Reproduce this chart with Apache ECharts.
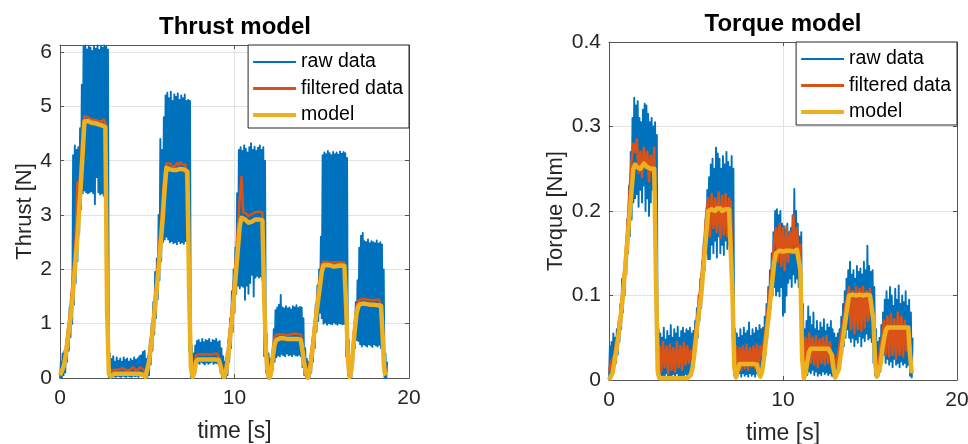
<!DOCTYPE html>
<html>
<head>
<meta charset="utf-8">
<script src="https://cdn.jsdelivr.net/npm/echarts@6/dist/echarts.min.js"></script>
<style>
  html, body { margin: 0; padding: 0; background: #ffffff; }
  #chart { width: 968px; height: 444px; }
</style>
</head>
<body>
<div id="chart"></div>
<script>
// Sampling period of the logged signals, seconds
const SAMPLE_PERIOD = 0.1;

const seriesNames = ['raw data', 'filtered data', 'model'];
const timeTicks = [0, 10, 20];

// ---- Thrust [N], one value per sample (0.0 s ... 18.7 s) ----
const thrustModel = [
  0.05, 0.05, 0.20, 0.35, 0.60, 0.85, 1.10, 1.40, 1.80, 2.20,
  2.60, 3.10, 3.60, 4.15, 4.72, 4.75, 4.73, 4.72, 4.70, 4.70,
  4.69, 4.68, 4.67, 4.66, 4.65, 4.64, 4.62, 1.20, 0.08, 0.03,
  0.06, 0.08, 0.08, 0.08, 0.08, 0.08, 0.08, 0.08, 0.08, 0.08,
  0.08, 0.08, 0.08, 0.08, 0.08, 0.08, 0.08, 0.07, 0.05, 0.02,
  0.05, 0.30, 0.55, 0.85, 1.15, 1.50, 1.85, 2.20, 2.60, 3.00,
  3.50, 3.87, 3.86, 3.84, 3.83, 3.83, 3.82, 3.83, 3.84, 3.85,
  3.85, 3.84, 3.82, 3.80, 1.60, 0.20, 0.02, 0.10, 0.30, 0.34,
  0.34, 0.34, 0.34, 0.34, 0.34, 0.34, 0.34, 0.34, 0.34, 0.34,
  0.34, 0.33, 0.22, 0.08, 0.02, 0.10, 0.30, 0.60, 0.90, 1.25,
  1.60, 2.00, 2.40, 2.80, 2.95, 2.94, 2.92, 2.90, 2.86, 2.85,
  2.88, 2.90, 2.92, 2.92, 2.92, 2.91, 2.90, 1.50, 0.50, 0.10,
  0.00, 0.10, 0.40, 0.62, 0.70, 0.72, 0.73, 0.73, 0.73, 0.72,
  0.72, 0.72, 0.72, 0.72, 0.72, 0.72, 0.72, 0.71, 0.70, 0.50,
  0.25, 0.10, 0.00, 0.10, 0.35, 0.60, 0.90, 1.20, 1.45, 1.70,
  1.95, 2.07, 2.08, 2.08, 2.08, 2.07, 2.06, 2.05, 2.05, 2.06,
  2.07, 2.07, 2.07, 2.06, 1.30, 0.35, 0.02, 0.15, 0.55, 0.90,
  1.20, 1.32, 1.36, 1.37, 1.37, 1.36, 1.36, 1.36, 1.35, 1.35,
  1.35, 1.34, 1.34, 1.34, 1.33, 0.70, 0.10, 0.05
];
const thrustFiltered = [
  0.10, 0.15, 0.30, 0.45, 0.75, 1.00, 1.30, 1.70, 2.10, 2.60,
  3.60, 3.50, 4.00, 4.55, 4.82, 4.82, 4.80, 4.78, 4.76, 4.78,
  4.75, 4.74, 4.73, 4.74, 4.72, 4.76, 4.70, 1.40, 0.15, 0.12,
  0.14, 0.16, 0.15, 0.14, 0.16, 0.15, 0.18, 0.15, 0.14, 0.17,
  0.15, 0.16, 0.20, 0.15, 0.18, 0.16, 0.20, 0.18, 0.15, 0.10,
  0.15, 0.45, 0.70, 1.00, 1.35, 1.70, 2.10, 2.50, 2.90, 3.40,
  3.80, 3.95, 3.93, 3.95, 3.90, 3.92, 3.90, 3.96, 3.92, 3.97,
  3.93, 3.95, 3.92, 3.90, 1.80, 0.35, 0.15, 0.25, 0.42, 0.45,
  0.44, 0.46, 0.43, 0.45, 0.44, 0.46, 0.43, 0.45, 0.44, 0.46,
  0.45, 0.42, 0.30, 0.15, 0.10, 0.22, 0.45, 0.80, 1.10, 1.50,
  1.90, 2.30, 2.80, 3.30, 3.70, 3.05, 3.03, 3.02, 2.98, 3.00,
  3.02, 3.04, 3.05, 3.02, 3.06, 3.04, 3.05, 1.70, 0.60, 0.20,
  0.10, 0.20, 0.55, 0.75, 0.80, 0.82, 0.80, 0.82, 0.80, 0.81,
  0.79, 0.82, 0.80, 0.81, 0.82, 0.80, 0.81, 0.83, 0.80, 0.60,
  0.35, 0.18, 0.12, 0.20, 0.50, 0.75, 1.05, 1.35, 1.65, 1.90,
  2.10, 2.14, 2.15, 2.13, 2.16, 2.12, 2.14, 2.13, 2.15, 2.12,
  2.14, 2.13, 2.15, 2.12, 1.45, 0.45, 0.12, 0.25, 0.70, 1.05,
  1.35, 1.42, 1.45, 1.46, 1.44, 1.45, 1.46, 1.44, 1.45, 1.43,
  1.45, 1.44, 1.46, 1.44, 1.43, 0.85, 0.20, 0.12
];
// lowest and highest raw reading inside each sample period
const thrustRawLow = [
  0.00, 0.00, 0.05, 0.10, 0.30, 0.50, 0.75, 1.00, 1.35, 1.75,
  2.15, 2.65, 3.10, 3.40, 3.45, 3.42, 3.40, 3.42, 3.44, 3.40,
  3.20, 3.70, 3.42, 3.38, 3.40, 3.36, 3.40, 0.50, 0.00, 0.00,
  0.02, 0.03, 0.02, 0.04, 0.03, 0.02, 0.04, 0.03, 0.02, 0.04,
  0.03, 0.02, 0.04, 0.03, 0.04, 0.02, 0.05, 0.04, 0.02, 0.00,
  0.00, 0.05, 0.25, 0.50, 0.80, 1.10, 1.45, 1.80, 2.15, 2.50,
  2.55, 2.60, 2.55, 2.50, 2.52, 2.48, 2.50, 2.46, 2.52, 2.48,
  2.50, 2.47, 2.52, 2.50, 0.50, 0.00, 0.00, 0.05, 0.25, 0.28,
  0.26, 0.30, 0.27, 0.25, 0.29, 0.26, 0.28, 0.30, 0.26, 0.28,
  0.27, 0.25, 0.10, 0.00, 0.00, 0.00, 0.05, 0.30, 0.55, 0.85,
  1.20, 1.55, 1.70, 1.65, 1.70, 1.68, 1.44, 1.70, 1.55, 1.75,
  1.90, 1.50, 1.85, 1.88, 1.85, 1.87, 1.80, 0.40, 0.10, 0.00,
  0.00, 0.00, 0.15, 0.30, 0.38, 0.42, 0.40, 0.44, 0.42, 0.40,
  0.45, 0.42, 0.43, 0.40, 0.44, 0.42, 0.41, 0.43, 0.40, 0.20,
  0.05, 0.00, 0.00, 0.00, 0.10, 0.30, 0.55, 0.85, 1.05, 1.20,
  1.10, 1.00, 1.02, 0.98, 1.01, 1.00, 0.99, 1.02, 1.00, 0.98,
  1.01, 1.00, 0.99, 1.00, 0.40, 0.05, 0.00, 0.00, 0.25, 0.55,
  0.70, 0.68, 0.62, 0.58, 0.62, 0.60, 0.58, 0.62, 0.60, 0.57,
  0.62, 0.60, 0.58, 0.61, 0.55, 0.20, 0.00, 0.00
];
const thrustRawHigh = [
  0.30, 0.45, 0.50, 0.60, 0.95, 1.30, 1.55, 4.10, 4.28, 4.20,
  4.25, 4.60, 5.40, 6.10, 6.12, 6.05, 6.10, 6.08, 6.02, 6.10,
  6.06, 6.12, 6.04, 6.10, 6.08, 6.12, 6.10, 6.05, 0.45, 0.35,
  0.40, 0.30, 0.38, 0.32, 0.36, 0.30, 0.38, 0.33, 0.36, 0.30,
  0.35, 0.32, 0.38, 0.33, 0.36, 0.40, 0.42, 0.48, 0.50, 0.35,
  0.40, 0.70, 1.00, 1.40, 1.95, 2.20, 3.00, 4.40, 4.20, 4.80,
  5.20, 5.25, 5.15, 5.27, 5.10, 5.22, 5.18, 5.24, 5.12, 5.20,
  5.15, 5.22, 5.10, 5.12, 5.10, 0.60, 0.45, 0.60, 0.68, 0.70,
  0.65, 0.72, 0.66, 0.70, 0.68, 0.72, 0.65, 0.70, 0.68, 0.72,
  0.66, 0.68, 0.55, 0.40, 0.30, 0.45, 0.70, 1.10, 1.60, 2.00,
  2.40, 3.40, 4.20, 4.25, 4.18, 4.28, 4.22, 4.15, 4.25, 4.32,
  4.20, 4.26, 4.18, 4.24, 4.28, 4.20, 4.25, 4.00, 0.80, 0.45,
  0.35, 0.45, 0.90, 1.25, 1.30, 1.35, 1.53, 1.30, 1.28, 1.32,
  1.28, 1.30, 1.26, 1.32, 1.30, 1.34, 1.29, 1.31, 1.30, 1.10,
  0.55, 0.35, 0.30, 0.40, 0.70, 1.00, 1.35, 1.70, 2.00, 2.60,
  4.10, 4.15, 4.12, 4.18, 4.14, 4.10, 4.16, 4.12, 4.15, 4.11,
  4.17, 4.13, 4.16, 4.14, 4.05, 0.70, 0.35, 0.45, 0.95, 1.40,
  1.80, 2.40, 2.62, 2.67, 2.52, 2.50, 2.55, 2.48, 2.52, 2.50,
  2.48, 2.53, 2.47, 2.50, 2.46, 2.00, 0.45, 0.30
];

// ---- Torque [Nm], one value per sample (0.0 s ... 17.4 s) ----
const torqueModel = [
  0.000, 0.002, 0.008, 0.020, 0.032, 0.045, 0.062, 0.080, 0.100, 0.125,
  0.150, 0.175, 0.200, 0.225, 0.250, 0.255, 0.252, 0.250, 0.250, 0.253,
  0.256, 0.255, 0.252, 0.250, 0.250, 0.252, 0.250, 0.120, 0.010, 0.002,
  0.002, 0.002, 0.002, 0.002, 0.002, 0.002, 0.002, 0.002, 0.002, 0.002,
  0.002, 0.002, 0.002, 0.002, 0.002, 0.002, 0.003, 0.006, 0.014, 0.030,
  0.050, 0.068, 0.085, 0.100, 0.125, 0.150, 0.175, 0.200, 0.202, 0.202,
  0.200, 0.200, 0.203, 0.205, 0.203, 0.200, 0.200, 0.202, 0.203, 0.202,
  0.200, 0.100, 0.015, 0.003, 0.012, 0.019, 0.019, 0.019, 0.019, 0.019,
  0.019, 0.019, 0.019, 0.019, 0.019, 0.018, 0.010, 0.004, 0.010, 0.025,
  0.043, 0.062, 0.080, 0.100, 0.120, 0.140, 0.150, 0.152, 0.153, 0.153,
  0.152, 0.152, 0.153, 0.154, 0.153, 0.152, 0.152, 0.153, 0.154, 0.152,
  0.130, 0.025, 0.002, 0.008, 0.022, 0.033, 0.037, 0.037, 0.037, 0.037,
  0.037, 0.037, 0.037, 0.037, 0.037, 0.037, 0.037, 0.036, 0.030, 0.014,
  0.003, 0.003, 0.012, 0.027, 0.042, 0.057, 0.072, 0.087, 0.100, 0.101,
  0.101, 0.100, 0.100, 0.101, 0.101, 0.100, 0.100, 0.101, 0.101, 0.100,
  0.100, 0.098, 0.070, 0.020, 0.004, 0.004, 0.018, 0.035, 0.048, 0.058,
  0.062, 0.062, 0.062, 0.062, 0.062, 0.062, 0.062, 0.062, 0.062, 0.062,
  0.062, 0.062, 0.062, 0.030, 0.008
];
const torqueFiltered = [
  0.010, 0.020, 0.025, 0.030, 0.045, 0.055, 0.070, 0.090, 0.110, 0.135,
  0.165, 0.195, 0.230, 0.260, 0.280, 0.270, 0.285, 0.245, 0.270, 0.240,
  0.275, 0.250, 0.270, 0.235, 0.265, 0.245, 0.275, 0.150, 0.030, 0.040,
  0.010, 0.045, 0.015, 0.040, 0.008, 0.042, 0.012, 0.038, 0.010, 0.045,
  0.015, 0.040, 0.012, 0.044, 0.018, 0.040, 0.020, 0.035, 0.030, 0.045,
  0.065, 0.080, 0.100, 0.120, 0.145, 0.170, 0.200, 0.215, 0.170, 0.220,
  0.180, 0.215, 0.175, 0.222, 0.168, 0.218, 0.172, 0.220, 0.170, 0.215,
  0.210, 0.130, 0.030, 0.040, 0.015, 0.038, 0.012, 0.040, 0.014, 0.042,
  0.012, 0.038, 0.016, 0.040, 0.014, 0.042, 0.016, 0.040, 0.030, 0.045,
  0.060, 0.080, 0.100, 0.120, 0.140, 0.165, 0.180, 0.140, 0.185, 0.135,
  0.180, 0.130, 0.182, 0.140, 0.175, 0.150, 0.195, 0.150, 0.180, 0.145,
  0.160, 0.050, 0.020, 0.050, 0.015, 0.055, 0.020, 0.050, 0.018, 0.052,
  0.015, 0.048, 0.020, 0.050, 0.018, 0.052, 0.020, 0.045, 0.015, 0.030,
  0.015, 0.025, 0.035, 0.050, 0.060, 0.075, 0.090, 0.100, 0.110, 0.060,
  0.105, 0.055, 0.110, 0.060, 0.108, 0.058, 0.110, 0.062, 0.105, 0.070,
  0.108, 0.080, 0.070, 0.035, 0.015, 0.020, 0.040, 0.050, 0.070, 0.030,
  0.075, 0.028, 0.078, 0.030, 0.072, 0.025, 0.080, 0.030, 0.075, 0.028,
  0.070, 0.035, 0.060, 0.040, 0.015
];
const torqueRawLow = [
  0.000, 0.005, 0.010, 0.015, 0.020, 0.030, 0.045, 0.060, 0.080, 0.100,
  0.125, 0.150, 0.170, 0.190, 0.210, 0.215, 0.220, 0.205, 0.225, 0.210,
  0.230, 0.200, 0.215, 0.194, 0.210, 0.225, 0.205, 0.050, 0.005, 0.005,
  0.003, 0.006, 0.004, 0.008, 0.003, 0.006, 0.004, 0.007, 0.003, 0.008,
  0.005, 0.004, 0.006, 0.003, 0.007, 0.005, 0.006, 0.010, 0.012, 0.025,
  0.035, 0.050, 0.070, 0.085, 0.110, 0.130, 0.150, 0.143, 0.143, 0.160,
  0.150, 0.165, 0.145, 0.170, 0.150, 0.160, 0.148, 0.165, 0.155, 0.160,
  0.165, 0.050, 0.005, 0.004, 0.005, 0.008, 0.004, 0.008, 0.005, 0.007,
  0.004, 0.008, 0.005, 0.007, 0.004, 0.008, 0.005, 0.006, 0.010, 0.020,
  0.030, 0.050, 0.070, 0.085, 0.100, 0.110, 0.100, 0.105, 0.099, 0.110,
  0.076, 0.080, 0.100, 0.115, 0.120, 0.110, 0.125, 0.115, 0.120, 0.110,
  0.080, 0.010, 0.005, 0.008, 0.006, 0.010, 0.008, 0.012, 0.006, 0.010,
  0.005, 0.008, 0.006, 0.010, 0.007, 0.009, 0.006, 0.008, 0.005, 0.004,
  0.003, 0.005, 0.012, 0.020, 0.030, 0.040, 0.050, 0.060, 0.050, 0.045,
  0.050, 0.040, 0.048, 0.044, 0.052, 0.040, 0.050, 0.046, 0.055, 0.048,
  0.050, 0.045, 0.020, 0.005, 0.003, 0.005, 0.010, 0.020, 0.030, 0.020,
  0.025, 0.018, 0.022, 0.015, 0.025, 0.018, 0.020, 0.015, 0.022, 0.018,
  0.020, 0.015, 0.018, 0.005, 0.003
];
const torqueRawHigh = [
  0.040, 0.045, 0.055, 0.050, 0.060, 0.070, 0.090, 0.120, 0.125, 0.150,
  0.190, 0.230, 0.270, 0.310, 0.334, 0.325, 0.330, 0.310, 0.305, 0.320,
  0.327, 0.325, 0.315, 0.305, 0.310, 0.300, 0.305, 0.290, 0.060, 0.055,
  0.050, 0.062, 0.048, 0.058, 0.052, 0.065, 0.050, 0.060, 0.055, 0.063,
  0.050, 0.058, 0.062, 0.055, 0.060, 0.058, 0.062, 0.055, 0.058, 0.070,
  0.085, 0.100, 0.120, 0.140, 0.165, 0.190, 0.225, 0.240, 0.255, 0.262,
  0.250, 0.275, 0.268, 0.262, 0.250, 0.265, 0.255, 0.270, 0.258, 0.252,
  0.265, 0.250, 0.060, 0.055, 0.050, 0.060, 0.052, 0.062, 0.055, 0.058,
  0.068, 0.052, 0.060, 0.055, 0.062, 0.058, 0.065, 0.060, 0.062, 0.075,
  0.090, 0.110, 0.130, 0.150, 0.175, 0.200, 0.202, 0.195, 0.200, 0.185,
  0.182, 0.178, 0.185, 0.175, 0.180, 0.195, 0.226, 0.200, 0.185, 0.170,
  0.175, 0.090, 0.060, 0.070, 0.087, 0.075, 0.065, 0.080, 0.060, 0.070,
  0.058, 0.068, 0.062, 0.072, 0.058, 0.066, 0.062, 0.070, 0.060, 0.055,
  0.050, 0.055, 0.060, 0.075, 0.090, 0.105, 0.120, 0.130, 0.140, 0.125,
  0.130, 0.120, 0.135, 0.128, 0.132, 0.125, 0.140, 0.130, 0.159, 0.135,
  0.128, 0.130, 0.110, 0.060, 0.045, 0.050, 0.065, 0.080, 0.095, 0.105,
  0.095, 0.110, 0.100, 0.088, 0.108, 0.095, 0.112, 0.090, 0.100, 0.092,
  0.105, 0.088, 0.095, 0.080, 0.050
];

// ---- styling ----
const FONT = '"Liberation Sans", Arial, Helvetica, sans-serif';
const TEXT_COLOR = '#262626';
const AXIS_COLOR = '#555555';
const GRID_COLOR = '#e2e2e2';
const COLORS = ['#0072BD', '#D95319', '#EDB120'];
const WIDTHS = [1.9, 2.5, 4.5];

function sampleTime(i) { return Math.round(i * SAMPLE_PERIOD * 100) / 100; }
function toPairs(values) { return values.map((v, i) => [sampleTime(i), v]); }
// raw signal: alternating low / high readings inside every sample period
function rawTrace(low, high) {
  const out = [];
  low.forEach((v, i) => {
    out.push([sampleTime(i), v]);
    out.push([sampleTime(i) + SAMPLE_PERIOD / 2, high[i]]);
  });
  return out;
}

function timeAxis(gridIndex, top) {
  return {
    type: 'value', gridIndex, position: top ? 'top' : 'bottom',
    min: timeTicks[0], max: timeTicks[timeTicks.length - 1], interval: timeTicks[1] - timeTicks[0],
    name: top ? '' : 'time [s]', nameLocation: 'middle', nameGap: 42,
    nameTextStyle: { fontFamily: FONT, fontSize: 23, color: TEXT_COLOR },
    axisLine: { show: true, onZero: false, lineStyle: { color: AXIS_COLOR, width: 1 } },
    axisTick: { show: true, inside: true, length: 4, lineStyle: { color: AXIS_COLOR } },
    axisLabel: { show: !top, fontFamily: FONT, fontSize: 21, color: TEXT_COLOR, margin: 10 },
    splitLine: { show: !top, lineStyle: { color: GRID_COLOR, width: 1 } }
  };
}
function valueAxis(gridIndex, right, max, interval, name, nameGap) {
  const onTick = Math.abs(max / interval - Math.round(max / interval)) < 1e-9;
  return {
    type: 'value', gridIndex, position: right ? 'right' : 'left',
    min: 0, max, interval,
    name: right ? '' : name, nameLocation: 'middle', nameGap,
    nameTextStyle: { fontFamily: FONT, fontSize: 22, color: TEXT_COLOR },
    axisLine: { show: true, onZero: false, lineStyle: { color: AXIS_COLOR, width: 1 } },
    axisTick: { show: true, inside: true, length: 4, lineStyle: { color: AXIS_COLOR } },
    axisLabel: { show: !right, showMaxLabel: onTick,
                 fontFamily: FONT, fontSize: 21, color: TEXT_COLOR, margin: 8 },
    splitLine: { show: !right, lineStyle: { color: GRID_COLOR, width: 1 } }
  };
}
function lineSeries(k, axis, data) {
  return {
    type: 'line', name: seriesNames[k], xAxisIndex: axis, yAxisIndex: axis,
    data, symbol: 'none', showSymbol: false, clip: true,
    lineStyle: { color: COLORS[k], width: WIDTHS[k], join: 'round' },
    itemStyle: { color: COLORS[k] }, z: 2 + k
  };
}
function legendBox(pos) {
  return Object.assign({
    orient: 'vertical', selectedMode: false,
    backgroundColor: '#ffffff', borderColor: TEXT_COLOR, borderWidth: 1,
    padding: [7, 6, 3, 5], itemGap: 6.5, itemWidth: 43, itemHeight: 20,
    itemStyle: { borderWidth: 0 },
    textStyle: { fontFamily: FONT, fontSize: 19.5, color: '#000000' },
    data: [
      { name: seriesNames[0], icon: 'path://M0 0H43V1.8H0Z' },
      { name: seriesNames[1], icon: 'path://M0 0H43V3H0Z' },
      { name: seriesNames[2], icon: 'path://M0 0H43V4.2H0Z' }
    ]
  }, pos);
}

const chart = echarts.init(document.getElementById('chart'), null, { renderer: 'canvas' });
chart.setOption({
  animation: false,
  backgroundColor: '#ffffff',
  title: [
    { text: 'Thrust model', left: 230, top: 10, textAlign: 'center',
      textStyle: { fontFamily: FONT, fontSize: 24, fontWeight: 'bold', color: '#000000' } },
    { text: 'Torque model', left: 778, top: 7, textAlign: 'center',
      textStyle: { fontFamily: FONT, fontSize: 24, fontWeight: 'bold', color: '#000000' } }
  ],
  legend: [ legendBox({ right: 559, top: 45 }), legendBox({ right: 11, top: 42 }) ],
  grid: [
    { left: 60, top: 45, width: 349, height: 333, containLabel: false, outerBoundsMode: 'none' },
    { left: 609, top: 42, width: 348, height: 338, containLabel: false, outerBoundsMode: 'none' }
  ],
  xAxis: [ timeAxis(0, false), timeAxis(1, false), timeAxis(0, true), timeAxis(1, true) ],
  yAxis: [
    valueAxis(0, false, 6.13, 1, 'Thrust [N]', 18),
    valueAxis(1, false, 0.4, 0.1, 'Torque [Nm]', 42),
    valueAxis(0, true, 6.13, 1, '', 0),
    valueAxis(1, true, 0.4, 0.1, '', 0)
  ],
  series: [
    lineSeries(0, 0, rawTrace(thrustRawLow, thrustRawHigh)),
    lineSeries(1, 0, toPairs(thrustFiltered)),
    lineSeries(2, 0, toPairs(thrustModel)),
    lineSeries(0, 1, rawTrace(torqueRawLow, torqueRawHigh)),
    lineSeries(1, 1, toPairs(torqueFiltered)),
    lineSeries(2, 1, toPairs(torqueModel))
  ]
});
</script>
</body>
</html>
